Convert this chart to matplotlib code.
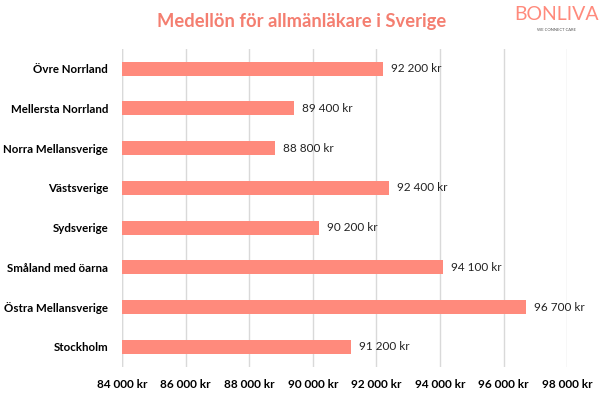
import matplotlib.pyplot as plt

regions = ['Övre Norrland', 'Mellersta Norrland', 'Norra Mellansverige', 'Västsverige',
           'Sydsverige', 'Småland med öarna', 'Östra Mellansverige', 'Stockholm']
salaries = [92200, 89400, 88800, 92400, 90200, 94100, 96700, 91200]
ticks = [84000, 86000, 88000, 90000, 92000, 94000, 96000, 98000]

bar_color = '#FF8A7C'
title_color = '#F47E70'

def kr(v):
    return f'{v:,}'.replace(',', ' ') + ' kr'

plt.rcParams['font.family'] = ['Lato', 'DejaVu Sans']

fig = plt.figure(figsize=(6.04, 3.97), dpi=100)
ax = fig.add_axes([0.202, 0.076, 0.737, 0.801])

ypos = list(range(len(regions)))
ax.barh(ypos, [s - ticks[0] for s in salaries], left=ticks[0], height=0.35, color=bar_color, zorder=3)
for y, s in zip(ypos, salaries):
    ax.text(s + 250, y, kr(s), va='center', ha='left', fontsize=8.5, color='#222222')

ax.set_ylim(len(regions) - 0.5, -0.5)
ax.set_yticks(ypos)
ax.set_yticklabels(regions, fontsize=8.3, fontweight='bold')
ax.set_xlim(ticks[0], ticks[-1])
ax.set_xticks(ticks)
ax.set_xticklabels([kr(t) for t in ticks], fontsize=8.5, fontweight='bold')
ax.tick_params(length=0)
ax.tick_params(axis='x', pad=9)
ax.tick_params(axis='y', pad=10)
ax.grid(axis='x', color='#D9D9D9', linewidth=1, zorder=0)
for sp in ax.spines.values():
    sp.set_visible(False)
ax.axvline(ticks[0], color='#D9D9D9', linewidth=1, zorder=1)

fig.text(0.5, 0.945, 'Medellön för allmänläkare i Sverige', ha='center', va='center',
         fontsize=13.2, fontweight='bold', color=title_color)
fig.text(0.921, 0.963, 'BONLIVA', ha='center', va='center', fontsize=14, color='#FF8A7C')
fig.text(0.921, 0.925, 'WE CONNECT CARE', ha='center', va='center', fontsize=3, color='#555555')

fig.savefig('out.png', dpi=100)
